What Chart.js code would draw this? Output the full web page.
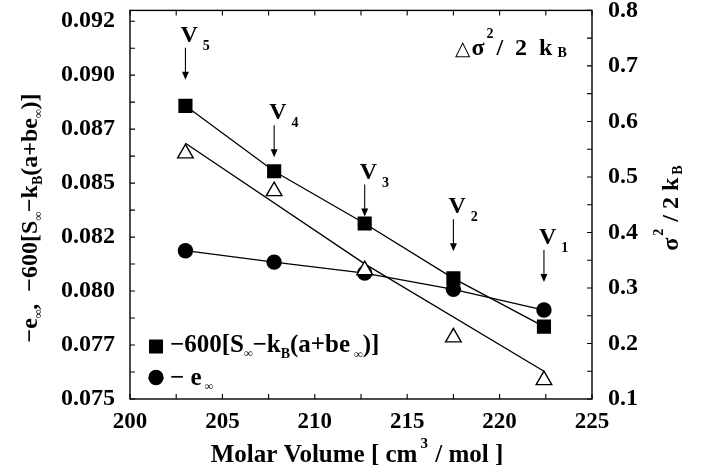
<!DOCTYPE html>
<html>
<head>
<meta charset="utf-8">
<script src="https://cdn.jsdelivr.net/npm/chart.js@4.4.1/dist/chart.umd.min.js"></script>
<style>
html,body{margin:0;padding:0;background:#fff;}
#wrap{width:712px;height:474px;position:relative;}
</style>
</head>
<body>
<div id="wrap"><canvas id="c"></canvas></div>
<script>
// ---- data ----
const volumes = [203.0, 207.8, 212.7, 217.5, 222.4];
const entropyTerm = [0.08858, 0.08555, 0.08313, 0.08059, 0.07835];   // -600[S - kB(a+be)]
const negEnergy = [0.08187, 0.08134, 0.08083, 0.08008, 0.07912];     // -e
const sigmaTerm = [0.5425, 0.4745, 0.332, 0.211, 0.134];             // sigma^2/2kB
const sigmaLineX = [203.0, 212.7, 222.4];
const sigmaLineY = [0.5607, 0.3434, 0.150];
const volumeNames = ['5', '4', '3', '2', '1'];
const arrowTips = [0.08979, 0.08620, 0.08345, 0.08184, 0.08042];

const xTicks = [200, 202.5, 205, 207.5, 210, 212.5, 215, 217.5, 220, 222.5, 225];
const xTickLabels = ['200', '', '205', '', '210', '', '215', '', '220', '', '225'];
const yTicks = [0.075, 0.07625, 0.0775, 0.07875, 0.08, 0.08125, 0.0825, 0.08375, 0.085, 0.08625, 0.0875, 0.08875, 0.09, 0.09125, 0.0925];
const yTickLabels = ['0.075', '', '0.077', '', '0.080', '', '0.082', '', '0.085', '', '0.087', '', '0.090', '', '0.092'];
const y2Ticks = [0.1, 0.15, 0.2, 0.25, 0.3, 0.35, 0.4, 0.45, 0.5, 0.55, 0.6, 0.65, 0.7, 0.75, 0.8];
const y2TickLabels = ['0.1', '', '0.2', '', '0.3', '', '0.4', '', '0.5', '', '0.6', '', '0.7', '', '0.8'];

const FAM = 'Liberation Serif';
function bf(sz){ return 'bold ' + sz + 'px "' + FAM + '"'; }

function drawRich(ctx, runs, x, y, align){
  let w = 0;
  runs.forEach(r => { ctx.font = r.f || bf(r.s); r.w = ctx.measureText(r.t).width; w += r.w + (r.g || 0); });
  let cx = align === 'center' ? x - w / 2 : (align === 'right' ? x - w : x);
  ctx.textAlign = 'left';
  ctx.textBaseline = 'alphabetic';
  runs.forEach(r => {
    ctx.font = r.f || bf(r.s);
    cx += (r.g || 0);
    ctx.fillText(r.t, cx, y + (r.dy || 0));
    cx += r.w;
  });
}

const deco = {
  id: 'deco',
  afterDatasetsDraw(chart){
    const ctx = chart.ctx;
    const a = chart.chartArea;
    const xs = chart.scales.x, ys = chart.scales.y, y2 = chart.scales.y2;
    ctx.save();
    ctx.strokeStyle = '#000';
    ctx.fillStyle = '#000';
    // frame
    ctx.lineWidth = 1.4;
    ctx.strokeRect(a.left, a.top, a.right - a.left, a.bottom - a.top);
    // inward ticks
    ctx.lineWidth = 1.1;
    const TL = 5;
    ctx.beginPath();
    xs.ticks.forEach(t => {
      const p = xs.getPixelForValue(t.value);
      ctx.moveTo(p, a.bottom); ctx.lineTo(p, a.bottom - TL);
      ctx.moveTo(p, a.top); ctx.lineTo(p, a.top + TL);
    });
    ys.ticks.forEach(t => {
      const p = ys.getPixelForValue(t.value);
      ctx.moveTo(a.left, p); ctx.lineTo(a.left + TL, p);
    });
    y2.ticks.forEach(t => {
      const p = y2.getPixelForValue(t.value);
      ctx.moveTo(a.right, p); ctx.lineTo(a.right - TL, p);
    });
    ctx.stroke();

    // V arrows
    volumes.forEach((v, i) => {
      const px = xs.getPixelForValue(v);
      const tip = ys.getPixelForValue(arrowTips[i]);
      const top = tip - 32;
      ctx.lineWidth = 1.1;
      ctx.beginPath();
      ctx.moveTo(px, top); ctx.lineTo(px, tip - 6);
      ctx.stroke();
      ctx.beginPath();
      ctx.moveTo(px - 3.5, tip - 8); ctx.lineTo(px + 3.5, tip - 8); ctx.lineTo(px, tip);
      ctx.closePath(); ctx.fill();
      drawRich(ctx, [{t:'V', s:24}, {t:volumeNames[i], s:14, dy:8, g:5}], px - 5, top - 6, 'left');
    });

    // top-right label
    drawRich(ctx, [
      {t:'\u25B3', f:'20px "DejaVu Sans"'},
      {t:'\u03C3', s:24, g:1},
      {t:'2', s:14, dy:-17, g:2},
      {t:'/  2  k', s:24, g:3},
      {t:'B', s:14, dy:2, g:5}
    ], 455, 55, 'left');

    // legend
    const lx = 156;
    const l1 = 346.5, l2 = 377.5;
    ctx.fillRect(lx - 7, l1 - 7, 14, 14);
    ctx.beginPath(); ctx.arc(lx, l2, 7.7, 0, Math.PI * 2); ctx.fill();
    drawRich(ctx, [
      {t:'\u2212600[S', s:25},
      {t:'\u221E', s:12, dy:5},
      {t:'\u2212k', s:25},
      {t:'B', s:14, dy:6},
      {t:'(a+be', s:25},
      {t:'\u221E', s:12, dy:6, g:4},
      {t:')]', s:25}
    ], 170, 352, 'left');
    drawRich(ctx, [
      {t:'\u2212 e', s:25},
      {t:'\u221E', s:12, dy:5, g:3}
    ], 170, 385, 'left');

    // x title
    drawRich(ctx, [
      {t:'Molar Volume [ cm', s:25},
      {t:'3', s:15, dy:-14, g:3},
      {t:' / mol ]', s:25, g:1}
    ], (a.left + a.right) / 2 - 4, 462, 'center');

    // left title
    ctx.save();
    ctx.translate(29, 218);
    ctx.rotate(-Math.PI / 2);
    drawRich(ctx, [
      {t:'\u2212e', s:24},
      {t:'\u221E', s:12, dy:5},
      {t:',  \u2212600[S', s:24},
      {t:'\u221E', s:12, dy:5},
      {t:'\u2212k', s:24},
      {t:'B', s:14, dy:5},
      {t:'(a+be', s:24},
      {t:'\u221E', s:12, dy:5},
      {t:')]', s:24}
    ], 0, 8, 'center');
    ctx.restore();

    // right title
    ctx.save();
    ctx.translate(670, 208);
    ctx.rotate(-Math.PI / 2);
    drawRich(ctx, [
      {t:'\u03C3', s:24},
      {t:'2', s:14, dy:-15, g:2},
      {t:' / 2 k', s:24, g:1},
      {t:'B', s:14, dy:4, g:3}
    ], 0, 8, 'center');
    ctx.restore();

    ctx.restore();
  }
};

const xFont = {family: FAM, weight: 'bold', size: 23};
const yFont = {family: FAM, weight: 'bold', size: 24};

new Chart(document.getElementById('c'), {
  type: 'scatter',
  data: {
    datasets: [
      {
        label: 'sigma markers',
        data: volumes.map((v, i) => ({x: v, y: sigmaTerm[i]})),
        yAxisID: 'y2', showLine: false,
        pointStyle: 'triangle', pointRadius: 9,
        pointBackgroundColor: '#fff', pointBorderColor: '#000', pointBorderWidth: 1.4
      },
      {
        label: 'sigma line',
        data: sigmaLineX.map((v, i) => ({x: v, y: sigmaLineY[i]})),
        yAxisID: 'y2', showLine: true, pointRadius: 0,
        borderColor: '#000', borderWidth: 1.3
      },
      {
        label: 'entropy',
        data: volumes.map((v, i) => ({x: v, y: entropyTerm[i]})),
        yAxisID: 'y', showLine: true,
        pointStyle: 'rect', pointRadius: 10,
        pointBackgroundColor: '#000', pointBorderColor: '#000', pointBorderWidth: 0,
        borderColor: '#000', borderWidth: 1.3
      },
      {
        label: 'energy',
        data: volumes.map((v, i) => ({x: v, y: negEnergy[i]})),
        yAxisID: 'y', showLine: true,
        pointStyle: 'circle', pointRadius: 7.7,
        pointBackgroundColor: '#000', pointBorderColor: '#000', pointBorderWidth: 0,
        borderColor: '#000', borderWidth: 1.3
      }
    ]
  },
  options: {
    responsive: true,
    maintainAspectRatio: false,
    animation: false,
    devicePixelRatio: 1,
    layout: {padding: {top: 7, left: 0, right: 0, bottom: 0}},
    plugins: {legend: {display: false}, tooltip: {enabled: false}},
    scales: {
      x: {
        type: 'linear', min: 200, max: 225,
        grid: {display: false, drawTicks: false},
        border: {display: false},
        afterBuildTicks: s => { s.ticks = xTicks.map(v => ({value: v})); },
        afterFit: s => { s.height = 75; s.paddingLeft = 0; s.paddingRight = 0; },
        ticks: {autoSkip: false, maxRotation: 0, font: xFont, color: '#000', padding: 9,
          callback: (v, i) => xTickLabels[i]}
      },
      y: {
        type: 'linear', position: 'left', min: 0.075, max: 0.093,
        grid: {display: false, drawTicks: false},
        border: {display: false},
        afterBuildTicks: s => { s.ticks = yTicks.map(v => ({value: v})); },
        afterFit: s => { s.width = 130; s.paddingTop = 0; s.paddingBottom = 0; },
        ticks: {autoSkip: false, font: yFont, color: '#000', padding: 15,
          callback: (v, i) => yTickLabels[i]}
      },
      y2: {
        type: 'linear', position: 'right', min: 0.1, max: 0.8,
        grid: {display: false, drawTicks: false},
        border: {display: false},
        afterBuildTicks: s => { s.ticks = y2Ticks.map(v => ({value: v})); },
        afterFit: s => { s.width = 120; s.paddingTop = 0; s.paddingBottom = 0; },
        ticks: {autoSkip: false, font: yFont, color: '#000', padding: 16,
          callback: (v, i) => y2TickLabels[i]}
      }
    }
  },
  plugins: [deco]
});
</script>
</body>
</html>
